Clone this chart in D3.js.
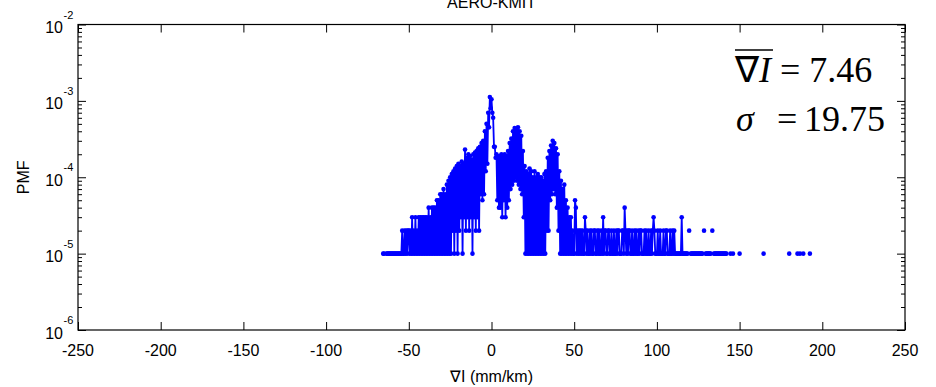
<!DOCTYPE html>
<html><head><meta charset="utf-8">
<script src="https://cdn.jsdelivr.net/npm/d3@7"></script>
<style>
body{margin:0;background:#fff}
svg{display:block}
text{font-family:"Liberation Sans",Arial,sans-serif;fill:#000}
</style></head>
<body><svg id="c" width="936" height="387"></svg>
<script>
// ---- data ----
const chartTitle = "AERO-KMIT";
const xLabel = "\u2207I (mm/km)";
const yLabel = "PMF";
const binStart = -70;      // first histogram bin centre (mm/km)
const binWidth = 0.5;      // bin width (mm/km)
const pmfUnit = 1e-5;      // PMF of a single sample
// sample counts per bin, 10 bins (5 mm/km) per row
const counts = [
  0,0,0,0,0,0,0,0,0,1,        // -70
  1,0,0,1,1,1,1,1,1,1,        // -65
  1,1,1,1,1,1,1,1,1,1,        // -60
  1,1,2,1,1,2,1,2,1,2,        // -55
  2,1,2,1,3,1,2,1,3,1,        // -50
  2,1,3,1,3,1,3,1,3,1,        // -45
  3,1,3,1,4,1,3,1,4,1,        // -40
  4,1,4,1,5,1,5,1,6,1,        // -35
  6,1,7,1,6,1,8,1,9,1,        // -30
  10,1,11,2,12,1,13,2,14,1,   // -25
  15,2,14,3,16,1,15,3,23,2,   // -20
  18,3,20,2,19,3,17,1,20,3,   // -15
  21,2,22,3,24,2,25,6,28,5,   // -10
  30,6,40,12,50,15,70,45,112,80,  // -5
  105,70,60,25,25,18,20,5,18,4,   // 0
  19,4,20,3,18,5,20,3,19,4,   // 5
  22,5,28,7,32,8,40,9,44,10,  // 10
  42,9,45,8,40,7,35,6,22,3,   // 15
  14,1,12,1,11,1,13,1,12,1,   // 20
  10,1,12,1,10,1,11,1,10,1,   // 25
  10,1,9,1,11,1,12,2,18,2,    // 30
  22,5,26,6,30,7,28,6,24,4,   // 35
  20,2,12,1,9,1,7,1,8,1,      // 40
  5,1,4,1,3,1,3,1,2,1,        // 45
  1,5,4,1,2,1,2,1,2,1,        // 50
  2,1,1,3,2,1,2,1,1,2,        // 55
  1,2,1,1,2,2,1,1,2,1,        // 60
  2,1,1,2,1,3,1,2,2,1,        // 65
  1,2,2,1,1,2,1,1,2,1,        // 70
  1,2,1,2,2,1,1,1,2,2,        // 75
  1,4,2,1,2,1,2,2,1,1,        // 80
  2,1,1,2,1,2,1,1,2,1,        // 85
  2,2,1,1,1,2,1,2,1,1,        // 90
  2,1,1,2,1,2,3,2,1,1,        // 95
  1,2,1,1,2,1,1,1,2,1,        // 100
  1,2,2,1,1,1,2,1,1,2,        // 105
  1,2,1,1,1,1,1,1,1,1,        // 110
  3,1,1,1,1,1,1,1,0,2,        // 115
  0,1,1,1,1,1,1,1,1,1,        // 120
  1,1,1,1,1,1,0,2,0,1,        // 125
  1,1,1,1,1,1,0,2,0,1,        // 130
  1,1,1,1,1,1,1,1,1,1,        // 135
  1,1,1,1,1,0,0,0,0,1,        // 140
  0,0,1,0,0,0,0,0,0,0,        // 145
  1                           // 150
];
// isolated far-tail samples
const tailX = [164.5, 180, 185, 186.5, 188.5, 192.5];
const tailCounts = [1, 1, 1, 1, 1, 1];

const xTicks = [-250,-200,-150,-100,-50,0,50,100,150,200,250];
const yDecades = [-6,-5,-4,-3,-2];
const meanText = "7.46";
const sigmaText = "19.75";

// ---- layout ----
const L = 78, R = 905, T = 24.5, B = 330;
const svg = d3.select("#c");
const x = d3.scaleLinear().domain([-250, 250]).range([L, R]);
const y = d3.scaleLog().domain([1e-6, 1e-2]).range([B, T]);

const mainPts = counts.map((c, i) => ({x: binStart + i * binWidth, c}));
const pts = mainPts.concat(tailX.map((v, i) => ({x: v, c: tailCounts[i]})));

// data line
const line = d3.line()
  .defined(d => d.c > 0)
  .x(d => x(d.x))
  .y(d => y(d.c * pmfUnit));
svg.append("path").datum(mainPts)
  .attr("d", line).attr("fill", "none")
  .attr("stroke", "#0000ff").attr("stroke-width", 1.8)
  .attr("stroke-linejoin", "miter").attr("stroke-miterlimit", 2);
svg.append("g").selectAll("circle").data(pts.filter(d => d.c > 0)).join("circle")
  .attr("cx", d => x(d.x)).attr("cy", d => y(d.c * pmfUnit))
  .attr("r", 2.3).attr("fill", "#0000ff");

// axes
const minorVals = [];
yDecades.slice(0, -1).forEach(e => { for (let k = 2; k <= 9; k++) minorVals.push(k * Math.pow(10, e)); });
const majorVals = yDecades.map(e => Math.pow(10, e));

function styleAxis(g) {
  g.selectAll(".domain").remove();
  g.selectAll(".tick line").attr("stroke", "#000").attr("stroke-width", 1);
  g.selectAll(".tick text").remove();
}
svg.append("g").attr("transform", `translate(0,${B})`)
  .call(d3.axisBottom(x).tickValues(xTicks).tickSize(-8)).call(styleAxis);
svg.append("g").attr("transform", `translate(0,${T})`)
  .call(d3.axisTop(x).tickValues(xTicks).tickSize(-8)).call(styleAxis);
svg.append("g").attr("transform", `translate(${L},0)`)
  .call(d3.axisLeft(y).tickValues(majorVals).tickSize(-8)).call(styleAxis);
svg.append("g").attr("transform", `translate(${L},0)`)
  .call(d3.axisLeft(y).tickValues(minorVals).tickSize(-4)).call(styleAxis);
svg.append("g").attr("transform", `translate(${R},0)`)
  .call(d3.axisRight(y).tickValues(majorVals).tickSize(-8)).call(styleAxis);
svg.append("g").attr("transform", `translate(${R},0)`)
  .call(d3.axisRight(y).tickValues(minorVals).tickSize(-4)).call(styleAxis);

svg.append("rect").attr("x", L).attr("y", T).attr("width", R - L).attr("height", B - T)
  .attr("fill", "none").attr("stroke", "#000").attr("stroke-width", 1.2);

// x tick labels
svg.append("g").selectAll("text").data(xTicks).join("text")
  .attr("x", d => x(d)).attr("y", 356).attr("text-anchor", "middle")
  .attr("font-size", 16).text(d => d);

// y tick labels 10^e
const yl = svg.append("g").selectAll("g").data(yDecades).join("g")
  .attr("transform", d => `translate(0,${y(Math.pow(10, d))})`);
yl.append("text").attr("x", 63).attr("y", 8.5).attr("text-anchor", "end")
  .attr("font-size", 16).text("10");
yl.append("text").attr("x", 63.5).attr("y", -6).attr("text-anchor", "start")
  .attr("font-size", 11).text(d => d);

// title & labels
svg.append("text").attr("x", (L + R) / 2).attr("y", 8).attr("text-anchor", "middle")
  .attr("font-size", 16).text(chartTitle);
svg.append("text").attr("x", (L + R) / 2).attr("y", 382).attr("text-anchor", "middle")
  .attr("font-size", 16).text(xLabel);
svg.append("text").attr("transform", `translate(29,${(T + B) / 2}) rotate(-90)`)
  .attr("text-anchor", "middle").attr("font-size", 16).text(yLabel);

// annotation
const serif = "'Liberation Serif','Times New Roman',serif";
const t1 = svg.append("text").attr("x", 735).attr("y", 82)
  .style("font-family", serif).attr("font-size", 36);
t1.append("tspan").text("\u2207");
t1.append("tspan").attr("font-style", "italic").text("I");
t1.append("tspan").text(" = " + meanText);
const tmp = svg.append("text").style("font-family", serif).attr("font-size", 36)
  .attr("x", 0).attr("y", -100);
tmp.append("tspan").text("\u2207");
tmp.append("tspan").attr("font-style", "italic").text("I");
const ow = tmp.node().getComputedTextLength();
tmp.remove();
svg.append("line").attr("x1", 735).attr("x2", 735 + ow + 2).attr("y1", 50).attr("y2", 50)
  .attr("stroke", "#000").attr("stroke-width", 1.6);

svg.append("text").attr("x", 736).attr("y", 131).style("font-family", serif)
  .attr("font-size", 36).attr("font-style", "italic").text("\u03c3");
svg.append("text").attr("x", 777).attr("y", 131).style("font-family", serif)
  .attr("font-size", 36).text("=");
svg.append("text").attr("x", 885).attr("y", 131).style("font-family", serif)
  .attr("font-size", 36).attr("text-anchor", "end").text(sigmaText);
</script></body></html>
